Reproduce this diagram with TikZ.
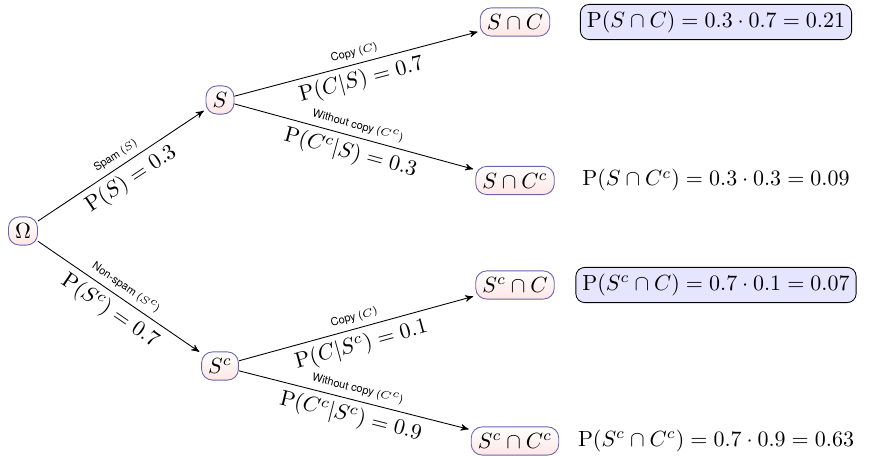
\documentclass[tikz,border=0pt]{standalone}
\usepackage{amsmath}
\usepackage{fontspec}
\usepackage{tikz}
\usetikzlibrary{arrows}

\newfontfamily\branchfont{TeX Gyre Heros}
\definecolor{nodeborder}{RGB}{105,100,175}

\begin{document}
\begin{tikzpicture}[->,>=stealth',shorten >=1pt,auto,
  thin,event node/.style={rectangle,rounded corners=5pt,draw=nodeborder,
  top color=white,bottom color=red!10,inner sep=3pt},
  result node/.style={rectangle,rounded corners=4pt,inner sep=3pt},
  prob box/.style={draw=black,fill=blue!10},
  top label/.style={above,sloped,font=\tiny\branchfont,inner sep=2.5pt},
  bottom label/.style={below,sloped,inner sep=2.5pt}]

  \useasboundingbox (0,0) rectangle (13.936,7.312);

  \node[event node] (O) at (0.368,3.616) {$\Omega$};
  \node[event node] (S) at (3.52,5.712) {$S$};
  \node[event node] (Sc) at (3.52,1.456) {$S^c$};

  \node[event node] (SC) at (8.24,6.96) {$S\cap C$};
  \node[event node] (SCc) at (8.24,4.424) {$S\cap C^c$};
  \node[event node] (ScC) at (8.24,2.752) {$S^c\cap C$};
  \node[event node] (ScCc) at (8.24,0.256) {$S^c\cap C^c$};

  \node[result node,prob box] (R1) at (11.456,6.96) {$\mathrm{P}(S\cap C)=0.3\cdot 0.7=0.21$};
  \node[result node] (R2) at (11.456,4.424) {$\mathrm{P}(S\cap C^c)=0.3\cdot 0.3=0.09$};
  \node[result node,prob box] (R3) at (11.456,2.752) {$\mathrm{P}(S^c\cap C)=0.7\cdot 0.1=0.07$};
  \node[result node] (R4) at (11.456,0.256) {$\mathrm{P}(S^c\cap C^c)=0.7\cdot 0.9=0.63$};

%first level
  \draw (O) -- node[top label] {Spam ($S$)} node[bottom label] {$\mathrm{P}(S)=0.3$} (S);
  \draw (O) -- node[top label] {Non-spam ($S^c$)} node[bottom label] {$\mathrm{P}(S^c)=0.7$} (Sc);

%spam branch
  \draw (S) -- node[top label] {Copy ($C$)} node[bottom label] {$\mathrm{P}(C|S)=0.7$} (SC);
  \draw (S) -- node[top label] {Without copy ($C^c$)} node[bottom label] {$\mathrm{P}(C^c|S)=0.3$} (SCc);

%non-spam branch
  \draw (Sc) -- node[top label] {Copy ($C$)} node[bottom label] {$\mathrm{P}(C|S^c)=0.1$} (ScC);
  \draw (Sc) -- node[top label] {Without copy ($C^c$)} node[bottom label] {$\mathrm{P}(C^c|S^c)=0.9$} (ScCc);

\end{tikzpicture}
\end{document}
